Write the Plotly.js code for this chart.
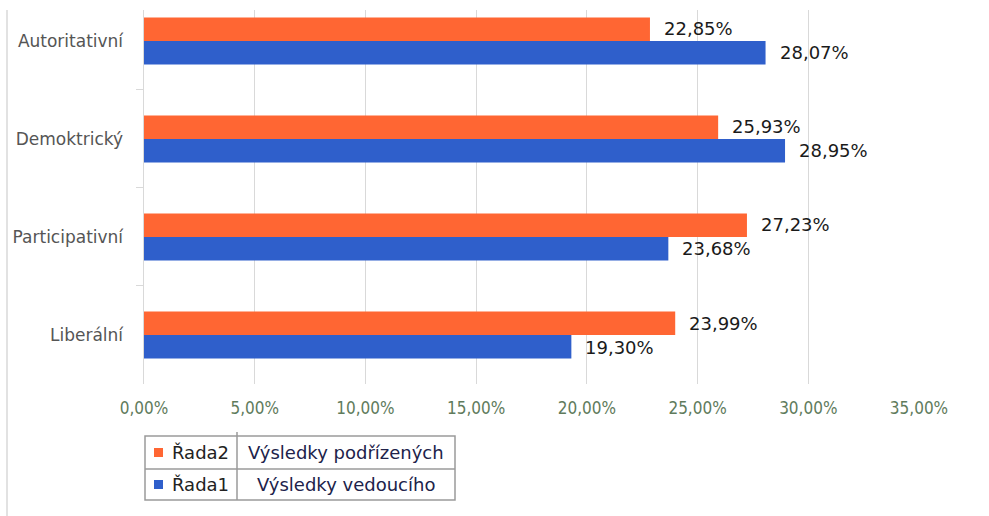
<!DOCTYPE html>
<html>
<head>
<meta charset="utf-8">
<script src="https://cdn.plot.ly/plotly-3.0.1.min.js"></script>
<style>html,body{margin:0;padding:0;background:#fff;}#chart{width:989px;height:516px;}</style>
</head>
<body>
<div id="chart"></div>
<script>
// ---- data ----
const categories = ['Autoritativní', 'Demoktrický', 'Participativní', 'Liberální'];
const rada2 = [22.85, 25.93, 27.23, 23.99];   // Výsledky podřízených
const rada1 = [28.07, 28.95, 23.68, 19.30];   // Výsledky vedoucího
const seriesNames = ['Řada2', 'Řada1'];
const seriesLabels = ['Výsledky podřízených', 'Výsledky vedoucího'];
const xTickVals = [0, 5, 10, 15, 20, 25, 30, 35];

// ---- styling ----
const colors = ['#FF6633', '#2F5FCB'];
const W = 989, H = 516;
const M = {l: 144, r: 70, t: 10, b: 132};
const plotW = W - M.l - M.r, plotH = H - M.t - M.b;
const px = v => (v - M.l) / plotW;
const py = v => (H - M.b - v) / plotH;

const fmt = v => v.toFixed(2).replace('.', ',') + '%';
const series = [rada2, rada1];

const traces = series.map((vals, i) => ({
  type: 'bar', orientation: 'h',
  name: seriesNames[i],
  y: categories, x: vals,
  marker: {color: colors[i]},
  hoverinfo: 'none'
}));

const annotations = [];
series.forEach((vals, i) => {
  vals.forEach((v, j) => {
    annotations.push({
      x: v, y: categories[j], xref: 'x', yref: 'y',
      text: fmt(v), showarrow: false,
      xanchor: 'left', yanchor: 'middle',
      xshift: 12, yshift: i === 0 ? 12 : -12,
      font: {family: 'DejaVu Sans, Verdana, sans-serif', size: 18, color: '#1a1a1a'}
    });
  });
});

// legend table
const tbl = {x0: 145, x1: 455, xm: 237, y0: 436, ym: 469, y1: 500};
const lineStyle = {color: '#9a9a9a', width: 1.5};
const shapes = [
  {type: 'rect', xref: 'paper', yref: 'paper', x0: px(tbl.x0), x1: px(tbl.x1), y0: py(tbl.y0), y1: py(tbl.y1), line: lineStyle},
  {type: 'line', xref: 'paper', yref: 'paper', x0: px(tbl.x0), x1: px(tbl.x1), y0: py(tbl.ym), y1: py(tbl.ym), line: lineStyle},
  {type: 'line', xref: 'paper', yref: 'paper', x0: px(tbl.xm), x1: px(tbl.xm), y0: py(432), y1: py(tbl.y1), line: lineStyle},
  // outer chart border on the left
  {type: 'line', xref: 'paper', yref: 'paper', x0: px(7), x1: px(7), y0: py(10), y1: py(516), line: {color: '#d9d9d9', width: 1.5}}
];
const rowCenters = [(tbl.y0 + tbl.ym) / 2, (tbl.ym + tbl.y1) / 2];
seriesNames.forEach((n, i) => {
  const cy = rowCenters[i];
  shapes.push({type: 'rect', xref: 'paper', yref: 'paper',
    x0: px(154), x1: px(163), y0: py(cy - 4.5), y1: py(cy + 4.5),
    fillcolor: colors[i], line: {width: 0}});
  annotations.push({xref: 'paper', yref: 'paper', x: px(170), y: py(cy), text: n,
    showarrow: false, xanchor: 'left', yanchor: 'middle',
    font: {family: 'DejaVu Sans, Verdana, sans-serif', size: 18, color: '#222222'}});
  annotations.push({xref: 'paper', yref: 'paper', x: px((tbl.xm + tbl.x1) / 2), y: py(cy), text: seriesLabels[i],
    showarrow: false, xanchor: 'center', yanchor: 'middle',
    font: {family: 'DejaVu Sans, Verdana, sans-serif', size: 18, color: '#20224a'}});
});

const layout = {
  width: W, height: H,
  margin: M,
  paper_bgcolor: '#ffffff', plot_bgcolor: '#ffffff',
  separators: ',.',
  barmode: 'group', bargap: 0.52, bargroupgap: 0,
  showlegend: false,
  xaxis: {
    range: [0, 35], tickvals: xTickVals, ticktext: xTickVals.map(fmt),
    showgrid: true, gridcolor: '#d9d9d9', gridwidth: 1,
    zeroline: false, showline: false, ticks: '',
    tickfont: {family: 'DejaVu Sans Condensed, DejaVu Sans, sans-serif', size: 17, color: '#5f7b5c'},
    ticklabelstandoff: 12, fixedrange: true
  },
  yaxis: {
    type: 'category', range: [3.5, -0.316],
    showgrid: false, zeroline: false,
    showline: true, linecolor: '#d9d9d9', linewidth: 1.5,
    ticks: 'outside', tickson: 'boundaries', ticklen: 7, tickcolor: '#d9d9d9',
    tickfont: {family: 'DejaVu Sans, Verdana, sans-serif', size: 17, color: '#555555'},
    ticklabelstandoff: 16, fixedrange: true
  },
  annotations: annotations,
  shapes: shapes
};

Plotly.newPlot('chart', traces, layout, {displayModeBar: false, staticPlot: true});
</script>
</body>
</html>
